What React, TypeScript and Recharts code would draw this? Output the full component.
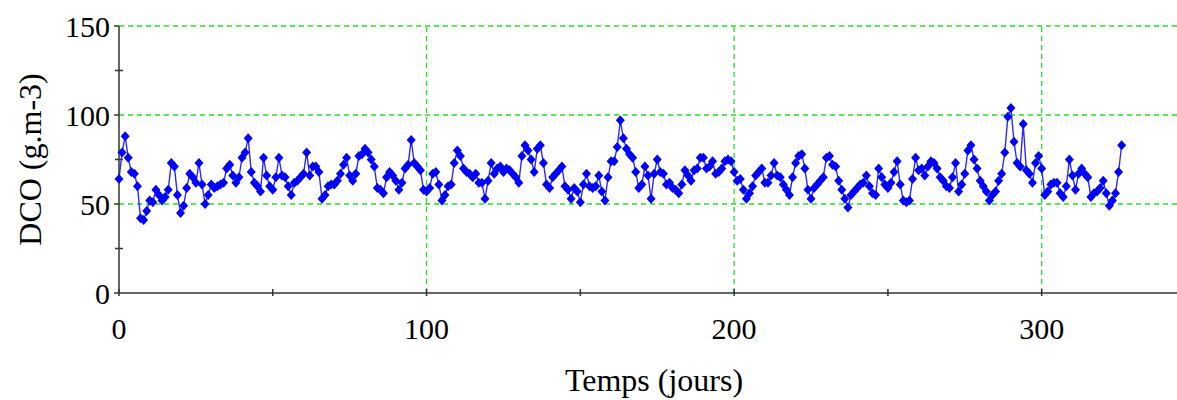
import React from 'react';
import { LineChart, Line, XAxis, YAxis, ReferenceLine } from 'recharts';

// DCO (g.m-3), one reading per day, days 0..326
const dcoValues: number[] = [
  64, 79, 88, 76, 68, 67, 60, 42, 41, 46,
  52, 51, 58, 55, 52, 54, 58, 73, 71, 55,
  45, 49, 59, 67, 65, 62, 73, 61, 50, 55,
  61, 59, 60, 61, 62, 70, 72, 66, 62, 65,
  76, 79, 87, 68, 62, 60, 57, 76, 66, 60, 58, 65, 76, 66, 65, 60, 55, 62, 63, 65,
  67, 79, 66, 71, 71, 68, 53, 55, 60, 61, 61, 63, 67, 72, 76, 66, 63, 67, 77, 78, 81,
  79, 75, 71, 59, 58, 56, 65, 68, 66, 63, 58, 62, 70, 72, 86, 73, 71, 69, 58, 57,
  59, 67, 68, 61, 52, 55, 60, 61, 73, 80, 77, 70, 68, 67, 65, 67, 62, 62, 53, 63, 73,
  67, 70, 71, 68, 70, 69, 67, 65, 62, 77, 83, 80, 75, 68, 81, 83, 73, 61, 59, 65, 67,
  69, 71, 60, 58, 53, 59, 57, 51, 61, 67, 60, 59, 60, 66, 57, 52, 65, 74, 74, 82, 97,
  87, 81, 78, 76, 68, 59, 61, 71, 66, 53, 67, 75, 68, 67, 61, 62, 59, 58, 56, 61,
  69, 66, 63, 69, 70, 76, 76, 70, 71, 74, 67, 68, 70, 74, 75, 74, 68, 63, 64, 58,
  53, 56, 60, 66, 68, 70, 62, 62, 66, 73, 66, 65, 61, 58, 55, 65, 73, 77, 78, 70,
  58, 53, 59, 61, 63, 65, 76, 77, 72, 71, 63, 58, 53, 48, 55, 57, 59, 61, 62, 66,
  60, 56, 55, 70, 65, 61, 59, 62, 68, 74, 61, 52, 51, 52, 64, 76, 69, 70, 66, 71,
  74, 73, 70, 65, 63, 60, 59, 65, 73, 57, 61, 67, 80, 83, 75, 70, 63, 60, 57, 52,
  55, 57, 63, 67, 79, 99, 104,
  85, 73, 71, 95, 69, 67, 62, 73, 77, 70, 55, 57, 61, 62, 62, 56, 54, 60, 75, 66,
  58, 67, 70, 67, 65, 54, 56, 57, 59, 63, 56, 49, 52, 56, 68, 83,
];

const xTicks = [0, 50, 100, 150, 200, 250, 300];
const xLabelTicks = [0, 100, 200, 300];
const yTicks = [0, 25, 50, 75, 100, 125, 150];
const yLabelTicks = [0, 50, 100, 150];
const gridX = [100, 200, 300];
const gridY = [50, 100, 150];

const data = dcoValues.map((v, i) => ({ day: i, dco: v }));

const FONT = "'Liberation Serif', 'Times New Roman', serif";
const AXIS = '#333333';
const GRID = '#22e022';

const XTick = (props: any) => {
  const { x, y, payload } = props;
  const showLabel = xLabelTicks.includes(payload.value);
  return (
    <g>
      <line x1={x} x2={x} y1={y - 4} y2={y + 3} stroke={AXIS} strokeWidth={1.5} />
      {showLabel && (
        <text x={x} y={y + 46} textAnchor="middle" fontSize={30} fontFamily={FONT} fill="#000">
          {payload.value}
        </text>
      )}
    </g>
  );
};

const YTick = (props: any) => {
  const { x, y, payload } = props;
  const major = yLabelTicks.includes(payload.value);
  return (
    <g>
      {major ? (
        <line x1={x - 5} x2={x} y1={y} y2={y} stroke={AXIS} strokeWidth={1.5} />
      ) : (
        <line x1={x - 4} x2={x + 4} y1={y} y2={y} stroke={AXIS} strokeWidth={1.5} />
      )}
      {major && (
        <text x={x - 9} y={y} textAnchor="end" dominantBaseline="central" fontSize={30} fontFamily={FONT} fill="#000">
          {payload.value}
        </text>
      )}
    </g>
  );
};

const Diamond = (props: any) => {
  const { cx, cy } = props;
  if (cx == null || cy == null) return null;
  return (
    <polygon
      points={`${cx},${cy - 5} ${cx + 4.5},${cy} ${cx},${cy + 5} ${cx - 4.5},${cy}`}
      fill="#0000ff"
      stroke="none"
    />
  );
};

const YLabel = (props: any) => {
  const { viewBox } = props;
  const cy = viewBox.y + viewBox.height / 2;
  const cx = 30;
  return (
    <text
      x={cx}
      y={cy}
      transform={`rotate(-90, ${cx}, ${cy})`}
      textAnchor="middle"
      dominantBaseline="central"
      fontSize={32}
      fontFamily={FONT}
      fill="#000"
    >
      DCO (g.m-3)
    </text>
  );
};

const XLabel = (props: any) => {
  const { viewBox } = props;
  const cx = viewBox.x + viewBox.width / 2 + 6;
  return (
    <text x={cx} y={391} textAnchor="middle" fontSize={32} fontFamily={FONT} fill="#000">
      Temps (jours)
    </text>
  );
};

export default function App() {
  return (
    <div style={{ position: 'absolute', left: 0, top: 0, width: 1177, height: 400, background: '#fff' }}>
      <LineChart width={1177} height={400} data={data} margin={{ top: 26, right: 0, left: 0, bottom: 47 }}>
        {gridY.map((v) => (
          <ReferenceLine key={'gy' + v} y={v} stroke={GRID} strokeWidth={1.3} strokeDasharray="5 4" ifOverflow="visible" />
        ))}
        {gridX.map((v) => (
          <ReferenceLine key={'gx' + v} x={v} stroke={GRID} strokeWidth={1.3} strokeDasharray="5 4" ifOverflow="visible" />
        ))}
        <XAxis
          dataKey="day"
          type="number"
          domain={[0, 344]}
          ticks={xTicks}
          interval={0}
          height={60}
          tickSize={0}
          tickMargin={0}
          tickLine={false}
          axisLine={{ stroke: AXIS, strokeWidth: 1.5 }}
          tick={<XTick />}
          label={<XLabel />}
        />
        <YAxis
          type="number"
          domain={[0, 150]}
          ticks={yTicks}
          interval={0}
          width={119}
          tickSize={0}
          tickMargin={0}
          tickLine={false}
          axisLine={{ stroke: AXIS, strokeWidth: 1.5 }}
          tick={<YTick />}
          label={<YLabel />}
        />
        <Line
          type="linear"
          dataKey="dco"
          stroke="#2a2aff"
          strokeWidth={1.4}
          dot={<Diamond />}
          activeDot={false}
          isAnimationActive={false}
        />
      </LineChart>
    </div>
  );
}
